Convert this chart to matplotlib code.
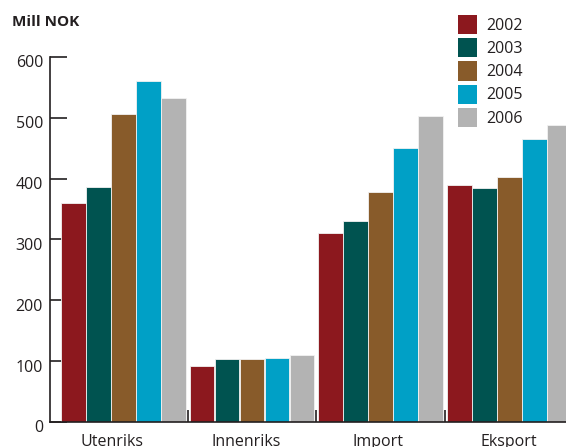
import numpy as np
import matplotlib
matplotlib.use("Agg")
import matplotlib.pyplot as plt
from matplotlib.patches import Patch
from matplotlib.transforms import ScaledTranslation

plt.rcParams['font.family'] = ['Open Sans', 'DejaVu Sans']

categories = ['Utenriks', 'Innenriks', 'Import', 'Eksport']
years = ['2002', '2003', '2004', '2005', '2006']
v2002 = [360, 92, 311, 389]
v2003 = [386, 104, 331, 385]
v2004 = [507, 104, 378, 402]
v2005 = [560, 105, 450, 465]
v2006 = [533, 110, 503, 489]
series = [v2002, v2003, v2004, v2005, v2006]
colors = ['#8c181e', '#005350', '#885b2a', '#00a0c6', '#b3b3b3']
yticks = [0, 100, 200, 300, 400, 500, 600]

W, H = 566, 447
fig = plt.figure(figsize=(W / 100, H / 100), dpi=100)
ax = fig.add_axes([50 / W, (H - 422) / H, (W - 50) / W, (422 - 57) / H])

x = np.arange(len(categories))
pitch = 0.1944
for i, (vals, c) in enumerate(zip(series, colors)):
    ax.bar(x + (i - 2) * pitch, vals, width=pitch * 0.98, color=c,
           edgecolor='#f2f2f2', linewidth=0.6, label=years[i], zorder=2)

ax.set_xlim(-0.5716, 3.441)
ax.set_ylim(0, 600)

ax.set_yticks(yticks)
ax.set_yticklabels([str(t) for t in yticks])
ax.set_xticks(x)
ax.set_xticklabels(categories)
ax.set_xticks(x[:-1] + 0.5, minor=True)

dark = '#231f20'
fs = 11.5
ax.tick_params(axis='y', direction='in', length=12, width=1.2, color=dark,
               labelsize=fs, labelcolor=dark, pad=5)
ax.tick_params(axis='x', which='major', length=0, labelsize=fs,
               labelcolor=dark, pad=9)
ax.tick_params(axis='x', which='minor', direction='in', length=9,
               width=1.2, color=dark)

for s in ['top', 'right']:
    ax.spines[s].set_visible(False)
for s in ['left', 'bottom']:
    ax.spines[s].set_color(dark)
    ax.spines[s].set_linewidth(1.2)

# value labels sit a few pixels below their tick marks
shift = ScaledTranslation(0, -4.5 / 100, fig.dpi_scale_trans)
for lab in ax.get_yticklabels():
    lab.set_transform(lab.get_transform() + shift)

# group names are nudged left of the group centres
nudge = [-12, -6, -3, 0]
for lab, dx in zip(ax.get_xticklabels(), nudge):
    lab.set_transform(lab.get_transform()
                      + ScaledTranslation(dx / 100, 0, fig.dpi_scale_trans))

fig.text(12 / W, 1 - 22 / H, 'Mill NOK', fontsize=11, fontweight='bold',
         color=dark, ha='left', va='center')

handles = [Patch(facecolor=c, edgecolor='none') for c in colors]
fig.legend(handles, years, loc='upper left',
           bbox_to_anchor=(458 / W, 1 - 15 / H), frameon=False,
           fontsize=fs, handlelength=1.19, handleheight=1.47,
           handletextpad=0.55, labelspacing=0.25, borderpad=0,
           borderaxespad=0, labelcolor=dark)

fig.savefig('out.png', dpi=100)
